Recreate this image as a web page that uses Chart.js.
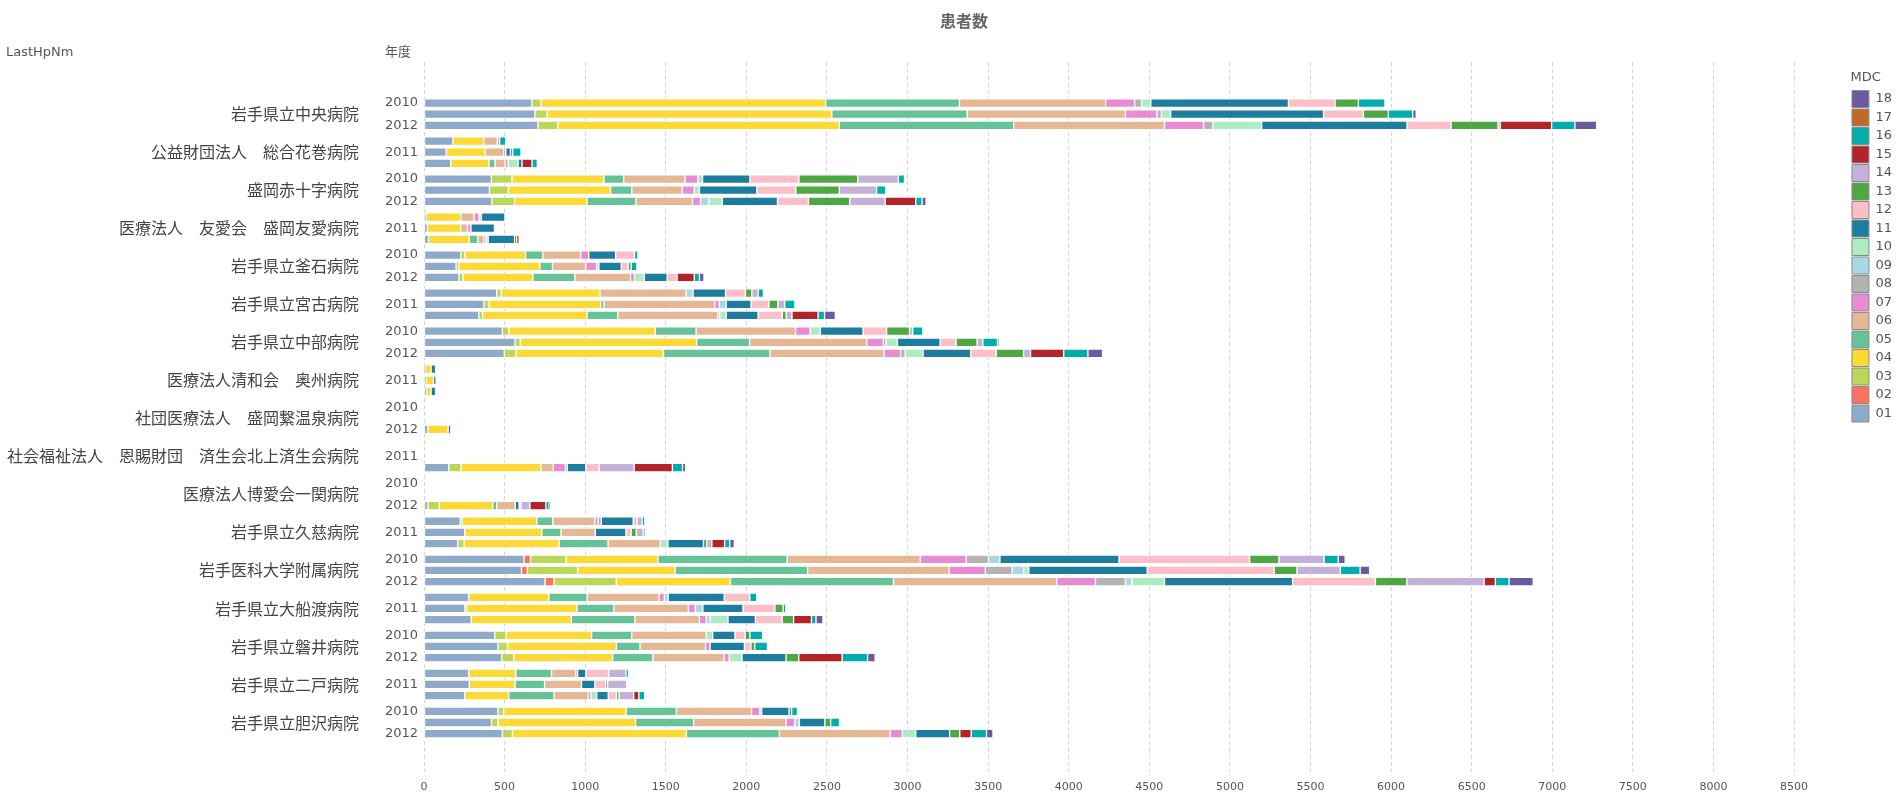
<!DOCTYPE html>
<html>
<head>
<meta charset="utf-8">
<title>患者数</title>
<script src="https://cdn.jsdelivr.net/npm/chart.js@4.4.1/dist/chart.umd.min.js"></script>
<style>
  html, body { margin: 0; padding: 0; background: #fff; }
  #wrap { position: relative; width: 1897px; height: 797px; }
</style>
</head>
<body>
<div id="wrap"><canvas id="patientChart"></canvas></div>
<script>
const hospitals = [
  '岩手県立中央病院',
  '公益財団法人　総合花巻病院',
  '盛岡赤十字病院',
  '医療法人　友愛会　盛岡友愛病院',
  '岩手県立釜石病院',
  '岩手県立宮古病院',
  '岩手県立中部病院',
  '医療法人清和会　奥州病院',
  '社団医療法人　盛岡繋温泉病院',
  '社会福祉法人　恩賜財団　済生会北上済生会病院',
  '医療法人博愛会一関病院',
  '岩手県立久慈病院',
  '岩手医科大学附属病院',
  '岩手県立大船渡病院',
  '岩手県立磐井病院',
  '岩手県立二戸病院',
  '岩手県立胆沢病院'
];
const years = ['2010', '2011', '2012'];
const mdcCodes = ['01','02','03','04','05','06','07','08','09','10','11','12','13','14','15','16','17','18'];
const xTicks = [0, 500, 1000, 1500, 2000, 2500, 3000, 3500, 4000, 4500, 5000, 5500, 6000, 6500, 7000, 7500, 8000, 8500];

// one array per MDC, 3 values (2010, 2011, 2012) per hospital in the order above
const m01 = [669,688,707, 180,138,166, 418,406,420, 14,21,28, 228,199,217, 451,372,340, 486,565,498, 8,12,16, 0,0,24, 0,0,154, 0,0,24, 225,253,209, 621,605,751, 277,253,293, 439,459,482, 277,281,253, 459,419,486];
const m02 = [0,0,0, 0,0,0, 0,0,0, 0,0,0, 0,0,0, 0,0,0, 0,0,0, 0,0,0, 0,0,0, 0,0,0, 0,0,0, 0,0,0, 40,36,55, 0,0,0, 0,0,0, 0,0,0, 0,0,0];
const m03 = [57,76,124, 0,0,0, 128,117,142, 0,0,0, 25,18,25, 28,32,24, 40,32,71, 0,0,0, 0,0,0, 0,0,75, 0,0,71, 12,0,40, 221,312,387, 0,12,0, 71,59,75, 0,0,0, 36,40,63];
const m04 = [1766,1766,1746, 190,242,237, 570,634,449, 214,206,253, 377,502,434, 613,692,648, 909,1095,917, 36,47,28, 0,0,126, 0,0,498, 0,0,332, 463,478,589, 569,605,708, 498,684,621, 530,676,613, 293,285,273, 759,854,1079];
const m05 = [830,840,1082, 0,0,38, 123,132,303, 0,0,53, 107,78,260, 0,20,190, 253,328,660, 0,0,0, 0,0,0, 0,0,0, 0,0,24, 99,119,304, 802,822,1012, 237,229,395, 249,146,249, 221,182,281, 312,360,577];
const m06 = [907,982,935, 85,114,62, 380,313,352, 82,43,36, 235,206,345, 534,688,621, 617,727,708, 0,0,0, 0,0,0, 0,0,75, 0,0,115, 261,213,324, 826,878,1012, 447,462,399, 462,407,443, 150,229,213, 466,573,688];
const m07 = [180,195,242, 14,14,19, 81,75,50, 32,21,14, 50,68,25, 0,28,0, 91,103,103, 0,0,0, 0,0,0, 0,0,75, 0,0,0, 20,0,0, 285,225,241, 32,43,43, 0,28,32, 12,0,16, 51,55,75];
const m08 = [43,28,57, 0,0,0, 0,0,0, 0,0,0, 0,0,0, 0,0,12, 0,16,28, 0,0,0, 0,0,0, 0,0,12, 0,0,0, 20,0,0, 138,166,186, 0,0,0, 0,0,0, 0,0,0, 0,0,0];
const m09 = [0,0,0, 0,0,0, 28,0,50, 14,0,0, 0,14,0, 43,43,0, 0,0,0, 0,0,0, 0,0,0, 0,0,0, 0,0,0, 0,0,0, 71,71,40, 24,47,24, 0,0,0, 0,0,0, 12,28,0];
const m10 = [57,57,304, 0,0,62, 0,32,85, 0,0,14, 0,0,61, 0,0,40, 63,71,111, 0,0,0, 0,0,0, 0,0,0, 0,0,0, 0,0,47, 0,32,202, 0,0,111, 40,0,79, 0,0,36, 0,0,83];
const m11 = [854,949,902, 0,28,24, 294,356,342, 146,146,164, 167,139,142, 202,154,198, 265,265,296, 28,16,28, 0,0,16, 0,0,115, 0,0,24, 198,190,221, 739,735,795, 348,249,170, 138,213,273, 51,83,71, 170,158,210];
const m12 = [289,247,273, 0,0,0, 304,242,192, 0,0,0, 117,43,61, 123,111,150, 146,99,158, 0,0,0, 0,0,0, 0,0,83, 0,0,12, 24,32,0, 810,787,514, 158,198,166, 63,40,0, 142,67,51, 0,0,0];
const m13 = [145,155,291, 0,14,0, 365,270,256, 0,0,0, 0,18,0, 40,55,24, 142,130,170, 0,0,0, 0,0,0, 0,0,0, 0,0,0, 0,32,20, 182,142,194, 0,51,71, 30,24,79, 0,12,16, 16,36,63];
const m14 = [0,0,15, 0,0,0, 252,231,221, 0,0,0, 0,0,0, 40,43,36, 20,36,43, 0,0,0, 0,0,0, 0,0,217, 0,0,55, 32,43,32, 281,269,480, 0,0,0, 0,0,0, 107,119,91, 0,0,0];
const m15 = [0,0,318, 0,0,62, 0,0,189, 0,0,11, 0,0,107, 0,0,162, 0,0,206, 0,0,0, 0,0,0, 0,0,237, 0,0,99, 0,0,79, 0,0,70, 0,0,111, 0,0,269, 0,0,32, 0,0,71];
const m16 = [165,151,144, 38,52,33, 38,57,39, 0,0,0, 21,36,32, 32,63,40, 63,91,150, 0,0,0, 0,0,0, 0,0,63, 0,0,20, 16,12,32, 87,123,85, 43,16,28, 79,79,158, 16,0,36, 36,55,95];
const m17 = [0,0,0, 0,0,0, 0,0,0, 0,0,18, 0,0,0, 0,0,0, 0,0,0, 0,0,0, 0,0,0, 0,0,0, 0,0,0, 0,0,0, 0,0,0, 0,0,0, 0,0,0, 0,0,0, 0,0,0];
const m18 = [0,22,135, 0,0,0, 0,0,25, 0,0,0, 0,0,28, 0,0,67, 0,8,91, 0,0,0, 0,0,0, 0,0,20, 0,0,8, 0,0,28, 43,59,150, 0,0,43, 0,0,47, 0,0,0, 0,0,40];

const series = [m01, m02, m03, m04, m05, m06, m07, m08, m09, m10, m11, m12, m13, m14, m15, m16, m17, m18];

const mdcColors = [
  '#8fa9ca', '#f8735f', '#bbd75a', '#fdd935', '#66c397', '#e5b794',
  '#e78cd3', '#b3b3b3', '#a8d8e3', '#aeeac2', '#1d7d9f', '#fdbec8',
  '#4da843', '#c4b1d7', '#b22427', '#00adad', '#c0692b', '#6b5a9e'
];

// row layout on the value axis: years stacked inside each hospital group, small gap between groups
const GROUP_STEP = 3.41;
const rows = [];
hospitals.forEach((h, k) => {
  years.forEach((yr, j) => rows.push({ hospital: h, year: yr, pos: k * GROUP_STEP + j }));
});
const Y_MIN = -3.68, Y_MAX = 60;

Chart.defaults.font.family = "'DejaVu Sans', 'Noto Sans CJK JP', sans-serif";
Chart.defaults.color = '#555';

const headerText = {
  id: 'headerText',
  afterDraw(chart) {
    const ctx = chart.ctx;
    ctx.save();
    ctx.textBaseline = 'middle';
    ctx.fillStyle = '#666';
    ctx.textAlign = 'center';
    ctx.font = "bold 16px 'Noto Sans CJK JP', sans-serif";
    ctx.fillText('患者数', 964, 21);
    ctx.fillStyle = '#555';
    ctx.textAlign = 'left';
    ctx.font = "13px 'DejaVu Sans', 'Noto Sans CJK JP', sans-serif";
    ctx.fillText('LastHpNm', 6, 53);
    ctx.fillText('年度', 385, 53);
    ctx.restore();
  }
};

const noEdgePadding = s => { s.paddingTop = 0; s.paddingBottom = 0; s.paddingLeft = 0; s.paddingRight = 0; };

const datasets = series.map((vals, i) => ({
  label: mdcCodes[i],
  data: vals.map((v, r) => ({ x: v || null, y: rows[r].pos })),
  backgroundColor: mdcColors[i],
  borderColor: 'rgba(255,255,255,0.85)',
  borderWidth: 1,
  borderSkipped: false,
  barThickness: 8.6,
  yAxisID: 'y'
}));

new Chart(document.getElementById('patientChart'), {
  type: 'bar',
  data: { datasets },
  plugins: [headerText],
  options: {
    indexAxis: 'y',
    responsive: true,
    maintainAspectRatio: false,
    animation: false,
    layout: { padding: { left: 0, right: -5, top: 62, bottom: 3 } },
    scales: {
      x: {
        type: 'linear',
        stacked: true,
        min: 0,
        max: 8850,
        border: { display: false, dash: [4, 3] },
        grid: { color: '#d4d4d4', drawTicks: false },
        ticks: {
          padding: 9, color: '#555', font: { size: 11 }, autoSkip: false, maxRotation: 0,
          callback: v => String(v)
        },
        afterBuildTicks: s => { s.ticks = xTicks.map(v => ({ value: v })); },
        afterFit: s => { s.height = 22; noEdgePadding(s); }
      },
      y: {
        type: 'linear',
        position: 'left',
        reverse: true,
        stacked: true,
        offset: false,
        min: Y_MIN,
        max: Y_MAX,
        grid: { display: false, drawTicks: false, offset: false },
        border: { display: false },
        afterBuildTicks: s => {
          s.ticks = rows.filter((r, i) => i % 2 === 0).map(r => ({ value: r.pos }));
        },
        ticks: {
          autoSkip: false,
          crossAlign: 'far',
          padding: 0,
          color: '#555',
          font: { size: 13 },
          callback: v => {
            const r = rows.find(row => Math.abs(row.pos - v) < 1e-6);
            return r ? r.year : '';
          }
        },
        afterFit: s => { s.width = 39; noEdgePadding(s); }
      },
      hosp: {
        type: 'linear',
        position: 'left',
        reverse: true,
        offset: false,
        weight: 1,
        min: Y_MIN,
        max: Y_MAX,
        grid: { display: false, drawTicks: false, offset: false },
        border: { display: false },
        afterBuildTicks: s => {
          s.ticks = hospitals.map((h, k) => ({ value: k * GROUP_STEP + 1 }));
        },
        ticks: {
          autoSkip: false,
          padding: 26,
          color: '#444',
          font: { family: "'Noto Sans CJK JP', sans-serif", size: 16 },
          callback: (v, i) => hospitals[i]
        },
        afterFit: s => { s.width = 385; noEdgePadding(s); }
      }
    },
    plugins: {
      title: { display: false },
      legend: {
        position: 'right',
        align: 'start',
        reverse: true,
        fullSize: false,
        title: {
          display: true,
          text: 'MDC',
          position: 'start',
          color: '#555',
          font: { size: 13 },
          padding: { top: 8.9, bottom: 2.5 }
        },
        labels: {
          boxWidth: 17,
          boxHeight: 17,
          padding: 1.5,
          color: '#555',
          font: { size: 13 },
          generateLabels: chart => Chart.defaults.plugins.legend.labels.generateLabels(chart)
            .map(item => Object.assign(item, { strokeStyle: '#8c8c8c', lineWidth: 1 }))
        }
      },
      tooltip: { enabled: false }
    }
  }
});
</script>
</body>
</html>
